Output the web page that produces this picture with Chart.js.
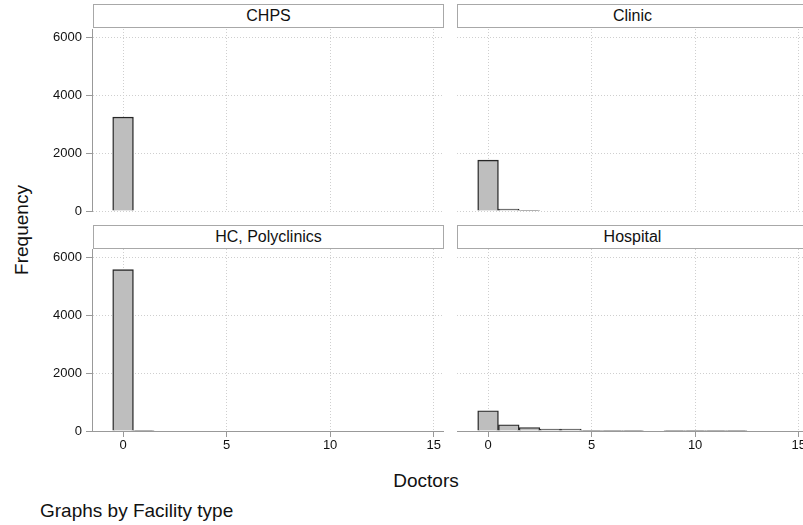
<!DOCTYPE html>
<html>
<head>
<meta charset="utf-8">
<script src="https://cdn.jsdelivr.net/npm/chart.js@4"></script>
<style>
  html, body { margin:0; padding:0; background:#fff; width:803px; height:525px; overflow:hidden; }
  body { position:relative; font-family:"Liberation Sans", Arial, sans-serif; color:#000; }
  canvas { position:absolute; }
  .strip { position:absolute; box-sizing:border-box; height:24px; width:351px; border:1.5px solid #a8a8a8; background:#fff;
           text-align:center; font-size:16px; line-height:21px; color:#111; }
  .lbl { position:absolute; font-size:19px; white-space:nowrap; color:#111; }
</style>
</head>
<body>

<div class="strip" style="left:93px;top:4px">CHPS</div>
<div class="strip" style="left:457px;top:4px">Clinic</div>
<div class="strip" style="left:93px;top:225px">HC, Polyclinics</div>
<div class="strip" style="left:457px;top:225px">Hospital</div>

<canvas id="pCHPS" width="404" height="192" style="left:40px;top:29px"></canvas>
<canvas id="pClinic" width="352" height="192" style="left:457px;top:29px"></canvas>
<canvas id="pHC" width="404" height="212" style="left:40px;top:249px"></canvas>
<canvas id="pHospital" width="352" height="212" style="left:457px;top:249px"></canvas>

<div class="lbl" style="left:22px;top:230px;transform:translate(-50%,-50%) rotate(-90deg)">Frequency</div>
<div class="lbl" style="left:426px;top:481px;transform:translate(-50%,-50%)">Doctors</div>
<div class="lbl" style="left:40px;top:500px">Graphs by Facility type</div>

<script>
// histogram bins (number of doctors) and counts per facility type
const bins = [0, 1, 2, 3, 4, 5, 6, 7, 8, 9, 10, 11, 12, 13, 14, 15];
const chpsCounts     = [3250, 0, 0, 0, 0, 0, 0, 0, 0, 0, 0, 0, 0, 0, 0, 0];
const clinicCounts   = [1760, 70, 15, 0, 0, 0, 0, 0, 0, 0, 0, 0, 0, 0, 0, 0];
const hcCounts       = [5585, 15, 0, 0, 0, 0, 0, 0, 0, 0, 0, 0, 0, 0, 0, 0];
const hospitalCounts = [700, 215, 120, 70, 70, 10, 10, 10, 0, 8, 8, 8, 20, 0, 0, 0];
const xTicks = [0, 5, 10, 15];
const yTicks = [0, 2000, 4000, 6000];

const FONT = { family: '"Liberation Sans", Arial, sans-serif', size: 13 };

function makePanel(id, counts, showY, showX, bottomPad) {
  new Chart(document.getElementById(id), {
    type: 'bar',
    data: {
      datasets: [{
        data: bins.map((b, i) => ({ x: b, y: counts[i] || null })),
        backgroundColor: '#bebebe', borderColor: '#262626', borderWidth: 1.4,
        barPercentage: 1, categoryPercentage: 1
      }]
    },
    options: {
      responsive: false, animation: false,
      layout: { padding: { top: 0, left: 0, right: 0, bottom: bottomPad } },
      plugins: { legend: { display: false }, tooltip: { enabled: false } },
      scales: {
        x: {
          type: 'linear', min: -1.5, max: 15.5, offset: false,
          afterBuildTicks: s => { s.ticks = xTicks.map(v => ({ value: v })); },
          afterFit: s => { s.height = showX ? 30 : 0; s.paddingLeft = s.paddingRight = 0; },
          grid: { offset: false, color: '#cfcfcf', drawTicks: showX, tickLength: 6, tickColor: '#999' },
          border: { display: showX, color: '#999', width: 1, dash: [1, 2] },
          ticks: { display: showX, color: '#111', font: FONT, padding: 1, maxRotation: 0, callback: v => String(v) }
        },
        y: {
          min: 0, max: 6300,
          afterBuildTicks: s => { s.ticks = yTicks.map(v => ({ value: v })); },
          afterFit: s => { s.width = showY ? 52 : 0; s.paddingTop = s.paddingBottom = 0; },
          grid: { color: '#cfcfcf', drawTicks: showY, tickLength: 6, tickColor: '#999' },
          border: { display: showY, color: '#999', width: 1, dash: [1, 2] },
          ticks: { display: showY, color: '#111', font: FONT, padding: 4, callback: v => String(v) }
        }
      }
    }
  });
}

makePanel('pCHPS', chpsCounts, true, false, 10);
makePanel('pClinic', clinicCounts, false, false, 10);
makePanel('pHC', hcCounts, true, true, 0);
makePanel('pHospital', hospitalCounts, false, true, 0);
</script>
</body>
</html>
